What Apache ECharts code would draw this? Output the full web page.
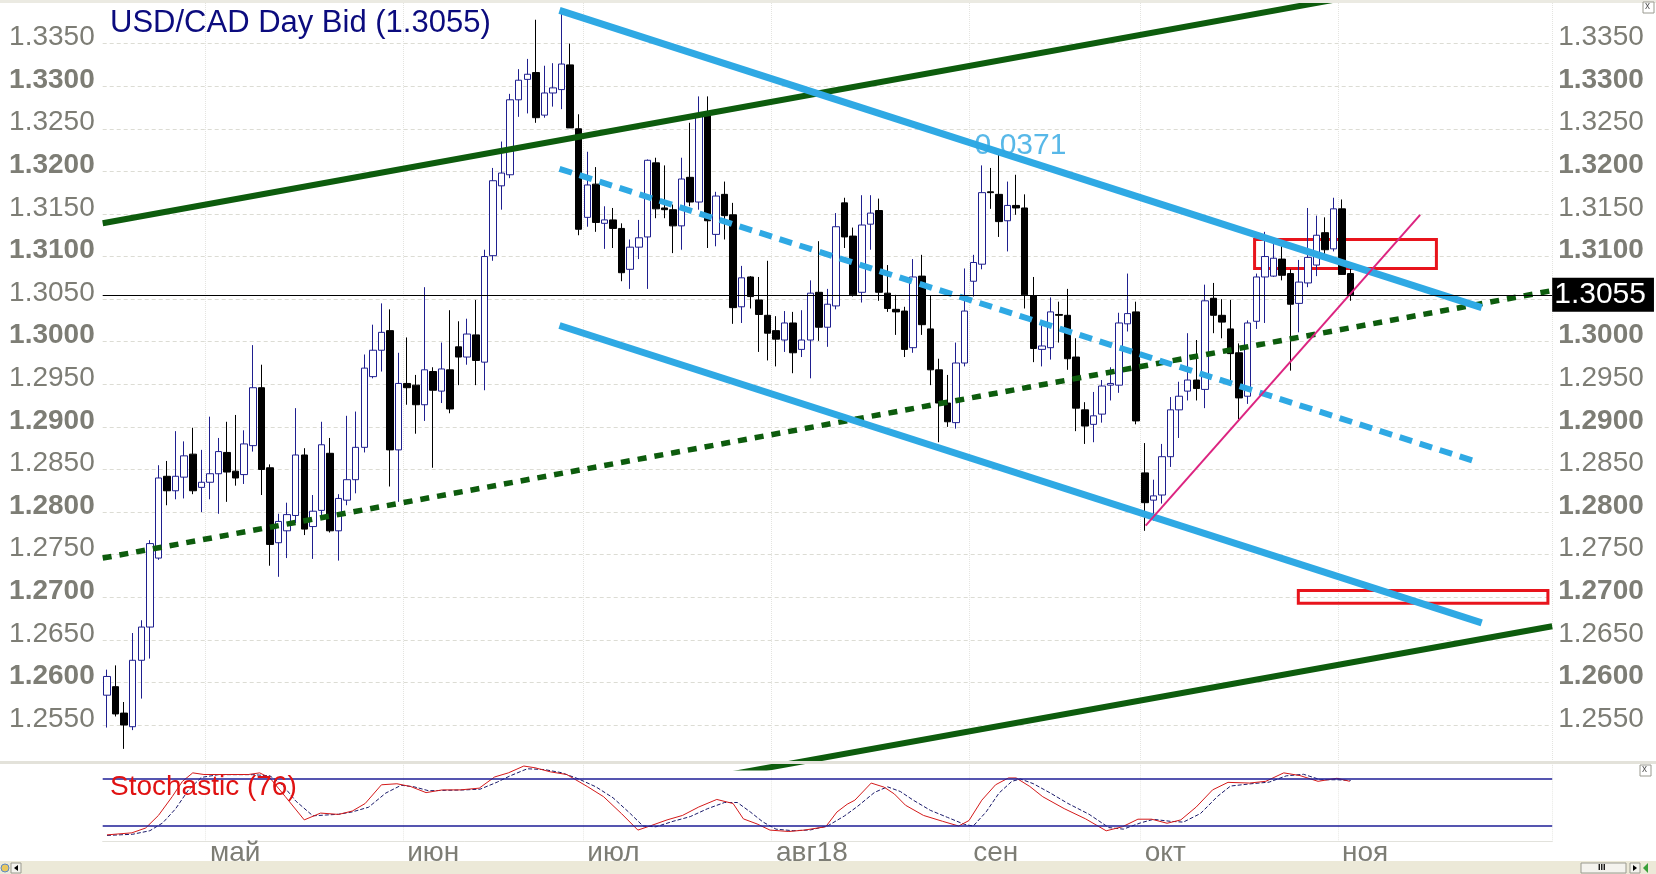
<!DOCTYPE html>
<html><head><meta charset="utf-8">
<script src="https://cdn.jsdelivr.net/npm/echarts@6/dist/echarts.min.js"></script>
<style>html,body{margin:0;padding:0;background:#fff}#c{width:1656px;height:874px}</style>
</head><body><div id="c"></div>
<script>
// ---------- DATA ----------
const pairName = 'USD/CAD';
const bid = 1.3055;
const stochPeriod = 76;
const channelLabel = '0.0371';
const monthStart = [12, 35, 56, 78, 101, 121, 144];
const monthLabels = ['май', 'июн', 'июл', 'авг18', 'сен', 'окт', 'ноя'];

const opens = [1.2585,1.2595,1.2564,1.2548,1.2626,1.2665,1.2746,1.2842,1.2825,1.2841,1.2868,1.2829,1.2835,1.2845,1.2870,1.2848,1.2844,1.2878,1.2946,1.2852,
1.2764,1.2778,1.2796,1.2867,1.2783,1.2802,1.2869,1.2778,1.2814,1.2838,1.2876,1.2959,1.2990,1.3013,1.2873,1.2951,1.2949,1.2926,1.2965,1.2942,
1.2967,1.2994,1.2982,1.3008,1.2976,1.3101,1.3183,1.3196,1.3284,1.3308,1.3316,1.3266,1.3292,1.3296,1.3325,1.3250,1.3146,1.3185,1.3139,1.3143,
1.3133,1.3085,1.3111,1.3123,1.3210,1.3157,1.3155,1.3136,1.3193,1.3164,1.3267,1.3126,1.3173,1.3149,1.3041,1.3076,1.3049,1.3031,1.3013,1.3002,
1.3022,1.2991,1.3002,1.3058,1.3017,1.3042,1.3163,1.3124,1.3058,1.3138,1.3154,1.3057,1.3038,1.3036,1.2993,1.3077,1.3015,1.2967,1.2928,1.2905,
1.2975,1.3071,1.3091,1.3176,1.3173,1.3142,1.3160,1.3157,1.3054,1.2991,1.2993,1.3032,1.3031,1.2982,1.2920,1.2903,1.2915,1.2949,1.2949,1.3021,
1.3035,1.2846,1.2814,1.2820,1.2865,1.2920,1.2942,1.2955,1.2944,1.3051,1.3031,1.3015,1.2987,1.2936,1.3024,1.3076,1.3077,1.3097,1.3080,1.3045,
1.3069,1.3090,1.3128,1.3109,1.3156,1.3080];
const closes = [1.2607,1.2563,1.2550,1.2626,1.2665,1.2763,1.2840,1.2825,1.2842,1.2866,1.2825,1.2835,1.2845,1.2871,1.2847,1.2840,1.2880,1.2946,1.2850,1.2762,
1.2789,1.2797,1.2867,1.2780,1.2801,1.2879,1.2778,1.2816,1.2838,1.2876,1.2969,1.2990,1.3011,1.2873,1.2951,1.2946,1.2926,1.2967,1.2943,1.2968,
1.2921,1.2982,1.3009,1.2978,1.3100,1.3189,1.3198,1.3284,1.3307,1.3314,1.3263,1.3292,1.3298,1.3326,1.3251,1.3132,1.3184,1.3140,1.3143,1.3133,
1.3081,1.3111,1.3122,1.3213,1.3156,1.3155,1.3136,1.3191,1.3164,1.3267,1.3142,1.3171,1.3148,1.3040,1.3075,1.3053,1.3032,1.3010,1.3003,1.3022,
1.2987,1.3002,1.3057,1.3017,1.3044,1.3135,1.3123,1.3055,1.3137,1.3151,1.3058,1.3039,1.3035,1.2991,1.3076,1.3020,1.2967,1.2928,1.2906,1.2975,
1.3036,1.3093,1.3175,1.3175,1.3141,1.3160,1.3157,1.3055,1.2992,1.2995,1.3035,1.3031,1.2980,1.2922,1.2901,1.2913,1.2948,1.2951,1.3022,1.3033,
1.2907,1.2811,1.2819,1.2865,1.2920,1.2936,1.2955,1.2945,1.3048,1.3031,1.3023,1.2986,1.2934,1.3022,1.3076,1.3100,1.3098,1.3078,1.3044,1.3070,
1.3099,1.3125,1.3108,1.3156,1.3079,1.3055];
const lows = [1.2547,1.2560,1.2522,1.2544,1.2581,1.2628,1.2744,1.2808,1.2815,1.2816,1.2821,1.2800,1.2815,1.2798,1.2812,1.2831,1.2833,1.2871,1.2820,1.2737,
1.2724,1.2746,1.2787,1.2773,1.2745,1.2795,1.2776,1.2743,1.2808,1.2822,1.2870,1.2957,1.2965,1.2830,1.2812,1.2926,1.2892,1.2907,1.2852,1.2928,
1.2916,1.2949,1.2973,1.2949,1.2943,1.3095,1.3155,1.3192,1.3264,1.3268,1.3257,1.3263,1.3276,1.3273,1.3251,1.3125,1.3135,1.3129,1.3109,1.3110,
1.3071,1.3062,1.3097,1.3062,1.3145,1.3145,1.3104,1.3108,1.3159,1.3155,1.3110,1.3112,1.3120,1.3021,1.3022,1.3039,1.2988,1.2978,1.2971,1.2988,
1.2963,1.2982,1.2957,1.3001,1.2994,1.3038,1.3110,1.3053,1.3046,1.3108,1.3048,1.3035,1.3008,1.2982,1.2987,1.3008,1.2949,1.2882,1.2900,1.2898,
1.2971,1.3053,1.3085,1.3156,1.3123,1.3106,1.3149,1.3039,1.2976,1.2971,1.2979,1.2999,1.2967,1.2895,1.2880,1.2882,1.2905,1.2931,1.2940,1.3012,
1.2903,1.2778,1.2790,1.2810,1.2853,1.2887,1.2931,1.2931,1.2922,1.3010,1.3004,1.2953,1.2909,1.2927,1.3015,1.3022,1.3076,1.3072,1.2966,1.3011,
1.3064,1.3077,1.3096,1.3106,1.3079,1.3048];
const highs = [1.2615,1.2620,1.2577,1.2658,1.2673,1.2767,1.2855,1.2860,1.2895,1.2883,1.2899,1.2873,1.2912,1.2887,1.2906,1.2914,1.2896,1.2996,1.2973,1.2856,
1.2798,1.2811,1.2922,1.2875,1.2820,1.2906,1.2887,1.2821,1.2913,1.2918,1.2985,1.3020,1.3045,1.3038,1.2987,1.3005,1.2961,1.3064,1.2970,1.2999,
1.3037,1.3024,1.3027,1.3049,1.3108,1.3204,1.3235,1.3291,1.3320,1.3332,1.3378,1.3324,1.3327,1.3390,1.3350,1.3267,1.3223,1.3205,1.3159,1.3157,
1.3139,1.3120,1.3143,1.3214,1.3216,1.3207,1.3161,1.3216,1.3257,1.3288,1.3288,1.3176,1.3188,1.3163,1.3089,1.3077,1.3076,1.3095,1.3030,1.3036,
1.3035,1.3037,1.3072,1.3118,1.3062,1.3151,1.3169,1.3134,1.3172,1.3172,1.3168,1.3090,1.3055,1.3041,1.3097,1.3102,1.3054,1.2980,1.2961,1.2999,
1.3086,1.3102,1.3207,1.3204,1.3222,1.3188,1.3196,1.3173,1.3076,1.3024,1.3052,1.3047,1.3062,1.3004,1.2929,1.2941,1.2955,1.2970,1.3034,1.3080,
1.3047,1.2881,1.2838,1.2880,1.2935,1.2953,1.3010,1.3002,1.3067,1.3069,1.3050,1.3049,1.2998,1.3025,1.3080,1.3129,1.3118,1.3114,1.3085,1.3096,
1.3157,1.3148,1.3146,1.3169,1.3167,1.3093];

// Trend lines drawn on the chart: [candle index, price]
const greenUpper = [[-0.5, 1.3139], [168.5, 1.3448]];
const greenMid   = [[-0.5, 1.2746], [168.5, 1.3060]];
const greenLower = [[-0.5, 1.2359], [168.5, 1.2666]];
const blueUpper  = [[52.76, 1.3389], [160.28, 1.3040]];
const blueMid    = [[52.76, 1.3203], [160.0, 1.2858]];
const blueLower  = [[52.76, 1.3019], [160.28, 1.2670]];
const magentaLine = [[121.1, 1.2784], [153.1, 1.3149]];
const redBoxes = [[[133.8, 1.3120], [155.0, 1.3086]], [[138.9, 1.2708], [168.0, 1.2693]]];
const channelLabelPos = [101.1, 1.3230];

// Stochastic (read points: candle index, value)
const stochKX = [0,2.9,4.5,6,7.6,8.8,10,11.3,13.4,16.5,17.8,19,20.8,23,24.9,27,28.6,30.1,32,33.8,35.4,37.2,39.1,41.2,43.4,45.2,46.8,48.6,49.9,51.7,53.6,56,57.9,60,61.9,63.4,65.3,67.1,69,71.1,73,74.2,75.8,77.3,79.5,81.3,83.8,85.1,86.3,87.2,89.1,90.6,91.8,93.1,95.2,97.4,99.3,100.5,102,103.6,105.1,106,107.6,109.1,111.6,114.1,116.5,118.4,120.2,121.8,123.6,125.2,127,128.9,130.7,133.2,135.1,137.2,139.1,141.2,143.4,144.9];
const stochK  = [8.7,11.3,17.4,33.5,57.4,77,87.8,85.7,85.7,85.7,87.8,81.3,57.4,27.8,36.5,34.8,39.1,48.7,72.6,73.9,70.4,62.6,66.1,66.1,68.3,82.6,87.8,96.5,94.3,89.1,85.7,70.4,57.4,35.7,14.8,20.4,27.8,33.5,44.3,53.9,48.7,29.1,22.6,14.8,13,14.8,19.1,37.8,47.8,53,74.8,69.6,60.9,46.5,33.5,26.1,20,27,53,72.6,81.3,81.3,70.4,57.4,42.2,29.1,13.9,19.1,28.7,28.7,23.5,27.8,44.3,66.1,75.7,74.8,77,87.8,84.3,77,80.9,77];
const stochDX = [0,3,5,6.5,8,9.5,11,13,17,19,20.5,22,24,25.5,27,28.6,30.5,32.5,34.3,35.8,37.5,39.5,41.5,43.5,45.5,47,49,51,53,55,57,59,61,62.5,64,66,68,70,72,73.5,75,76.5,78,80,82,84,86,87.5,89.5,91,92.5,94,96,98,100,101,102.5,104,105.5,106.5,108,110,112,114.5,116.8,118.5,120.5,122,124,125.5,127.5,129.5,131,133.5,135.5,137.5,139.5,141.5,143.5,145];
const stochD  = [8,9.5,14,24,42,66,82,85.5,85.5,84,72,52,33,34,35,38,44,62,72,70,65,65.5,66,67,76,84,93,92,88,80,70,56,36,20,19,26,32,42,50,50,38,25,16,14,15,20,33,45,63,70,64,53,40,31,22,20,38,62,77,80,74,62,49,35,18,16,24,28.5,26,25,36,58,71,74,76,84,86,79,79,78];
const stochLevels = [80, 20];

// ---------- CHART ----------
const N_CAT = 169;
const cats = Array.from({length: N_CAT}, (_, i) => String(i));
const candleData = opens.map((o, i) => [o, closes[i], lows[i], highs[i]]);
const kPairs = stochKX.map((x, i) => [x, stochK[i]]);
const dPairs = stochDX.map((x, i) => [x, stochD[i]]);

const FONT = "'Liberation Sans', Arial, sans-serif";
const GRAY = '#7d7d75';
const rich = {
  b: {fontSize: 28, fontWeight: 'bold', color: GRAY, fontFamily: FONT},
  n: {fontSize: 28, color: GRAY, fontFamily: FONT}
};
const fmt = v => (Math.round(v * 10000) % 100 === 0 ? '{b|' : '{n|') + v.toFixed(4) + '}';
const isMonth = (idx) => monthStart.indexOf(idx) >= 0;

function trend(data, color, width, type) {
  return {type: 'line', xAxisIndex: 1, yAxisIndex: 0, data, symbol: 'none', silent: true,
    lineStyle: {color, width, type, cap: 'butt'}, z: 3};
}

const chart = echarts.init(document.getElementById('c'), null, {width: 1656, height: 874});
chart.setOption({
  animation: false,
  backgroundColor: '#ffffff',
  grid: [
    {left: 102.7, right: 103.8, top: 1, bottom: 106.4},
    {left: 102.7, right: 103.8, top: 763.3, bottom: 32.3}
  ],
  xAxis: [
    {type: 'category', gridIndex: 0, data: cats, boundaryGap: true,
     axisLine: {show: false}, axisTick: {show: false}, axisLabel: {show: false},
     splitLine: {show: true, interval: isMonth, lineStyle: {color: '#e4e4e0', type: 'dotted', width: 1}}},
    {type: 'value', gridIndex: 0, min: -0.5, max: N_CAT - 0.5, show: false},
    {type: 'category', gridIndex: 1, data: cats, boundaryGap: true,
     axisLine: {show: true, lineStyle: {color: '#e2e2dc', width: 1}}, axisTick: {show: false},
     axisLabel: {show: true, interval: isMonth, align: 'left', margin: -2, fontSize: 28,
       color: GRAY, fontFamily: FONT,
       formatter: (v) => monthLabels[monthStart.indexOf(Number(v))] || ''},
     splitLine: {show: true, interval: isMonth, lineStyle: {color: '#e8e8e4', type: 'dotted', width: 1}}},
    {type: 'value', gridIndex: 1, min: -0.5, max: N_CAT - 0.5, show: false}
  ],
  yAxis: [
    {type: 'value', gridIndex: 0, position: 'left', min: 1.25, max: 1.34, interval: 0.005,
     axisLine: {show: false}, axisTick: {show: false},
     splitLine: {show: true, showMinLine: false, showMaxLine: false, lineStyle: {color: '#dcdcd4', type: [4, 3], width: 1}},
     axisLabel: {formatter: fmt, rich, margin: 8, padding: [0, 0, 12, 0], showMinLabel: false, showMaxLabel: false}},
    {type: 'value', gridIndex: 0, position: 'right', min: 1.25, max: 1.34, interval: 0.005,
     axisLine: {show: false}, axisTick: {show: false}, splitLine: {show: false},
     axisLabel: {formatter: fmt, rich, margin: 6, padding: [0, 0, 12, 0], showMinLabel: false, showMaxLabel: false}},
    {type: 'value', gridIndex: 1, min: 0, max: 100, show: false}
  ],
  series: [
    {type: 'candlestick', xAxisIndex: 0, yAxisIndex: 0, data: candleData, barWidth: 7, silent: true,
     itemStyle: {color: '#ffffff', color0: '#000000', borderColor: '#1f1f8f', borderColor0: '#000000', borderWidth: 1}},
    {type: 'line', xAxisIndex: 1, yAxisIndex: 0, data: [], symbol: 'none', silent: true, z: 5,
     markLine: {symbol: 'none', silent: true, precision: 4,
       lineStyle: {color: '#000000', width: 1, type: 'solid'},
       label: {show: true, position: 'end', distance: 0, formatter: bid.toFixed(4), color: '#ffffff',
         backgroundColor: '#000000', fontSize: 30, fontFamily: FONT, padding: [3, 8, 1, 2]},
       data: [{yAxis: bid}]}},
    trend(greenUpper, '#0d5c0d', 6, 'solid'),
    trend(greenMid, '#0d5c0d', 5.5, [9, 8]),
    trend(greenLower, '#0d5c0d', 6, 'solid'),
    trend(blueUpper, '#2fa9e4', 7, 'solid'),
    trend(blueMid, '#2fa9e4', 6, [13, 8]),
    trend(blueLower, '#2fa9e4', 7, 'solid'),
    Object.assign(trend(magentaLine, '#dc2480', 2, 'solid'), {
      markArea: {silent: true, itemStyle: {color: 'rgba(0,0,0,0)', borderColor: '#e8141c', borderWidth: 3},
        data: redBoxes.map(b => [{coord: b[0]}, {coord: b[1]}])}
    }),
    {type: 'scatter', xAxisIndex: 1, yAxisIndex: 0, data: [channelLabelPos], symbolSize: 1, silent: true, z: 4,
     itemStyle: {color: 'rgba(0,0,0,0)'},
     label: {show: true, position: 'right', distance: 0, formatter: channelLabel, color: '#2ea6e2', fontSize: 30, fontFamily: FONT}},
    {type: 'line', xAxisIndex: 3, yAxisIndex: 2, data: dPairs, symbol: 'none', silent: true,
     lineStyle: {color: '#1a1a6a', width: 1, type: [4, 2]}},
    {type: 'line', xAxisIndex: 3, yAxisIndex: 2, data: kPairs, symbol: 'none', silent: true,
     lineStyle: {color: '#d41a1a', width: 1},
     markLine: {symbol: 'none', silent: true, label: {show: false},
       lineStyle: {color: '#1c1c96', width: 1.5, type: 'solid'},
       data: stochLevels.map(v => ({yAxis: v}))}}
  ],
  graphic: [
    {type: 'rect', z: 100, silent: true, shape: {x: 0, y: 0, width: 1656, height: 3}, style: {fill: '#ebeae2'}},
    {type: 'rect', z: 100, silent: true, shape: {x: 0, y: 761, width: 1656, height: 3}, style: {fill: '#e3e2da'}},
    {type: 'rect', z: 100, silent: true, shape: {x: 0, y: 861, width: 1656, height: 13}, style: {fill: '#ece9d8'}},
    {type: 'rect', z: 101, silent: true, shape: {x: 11, y: 863, width: 10, height: 10}, style: {fill: '#f4f3ee', stroke: '#9a9a90'}},
    {type: 'polygon', z: 102, silent: true, shape: {points: [[18, 865], [18, 871], [14, 868]]}, style: {fill: '#000'}},
    {type: 'circle', z: 101, silent: true, shape: {cx: 5, cy: 868, r: 4}, style: {fill: '#e8c860', stroke: '#5a88c8'}},
    {type: 'rect', z: 101, silent: true, shape: {x: 1581, y: 863, width: 45, height: 10}, style: {fill: '#f4f3ee', stroke: '#9a9a90'}},
    {type: 'text', z: 102, silent: true, left: 1598, top: 863, style: {text: 'III', font: 'bold 9px ' + FONT, fill: '#000'}},
    {type: 'rect', z: 101, silent: true, shape: {x: 1630, y: 863, width: 10, height: 10}, style: {fill: '#f4f3ee', stroke: '#9a9a90'}},
    {type: 'polygon', z: 102, silent: true, shape: {points: [[1633, 865], [1633, 871], [1637, 868]]}, style: {fill: '#000'}},
    {type: 'polygon', z: 102, silent: true, shape: {points: [[1643, 868], [1648, 863], [1648, 873]]}, style: {fill: '#3aa03a'}},
    {type: 'rect', z: 101, silent: true, shape: {x: 1643, y: 2, width: 11, height: 11}, style: {fill: '#fff', stroke: '#9a9a90'}},
    {type: 'text', z: 102, silent: true, left: 1645, top: 1, style: {text: 'x', font: '10px ' + FONT, fill: '#555'}},
    {type: 'rect', z: 101, silent: true, shape: {x: 1640, y: 765, width: 11, height: 11}, style: {fill: '#fff', stroke: '#9a9a90'}},
    {type: 'text', z: 102, silent: true, left: 1642, top: 764, style: {text: 'x', font: '10px ' + FONT, fill: '#555'}},
    {type: 'text', z: 100, silent: true, left: 110, top: 8,
     style: {text: pairName + ' Day Bid (' + bid.toFixed(4) + ')', font: '31px ' + FONT, fill: '#0b0b7e'}},
    {type: 'text', z: 100, silent: true, left: 110, top: 773,
     style: {text: 'Stochastic (' + stochPeriod + ')', font: '28px ' + FONT, fill: '#e01212'}}
  ]
});
</script>
</body></html>
